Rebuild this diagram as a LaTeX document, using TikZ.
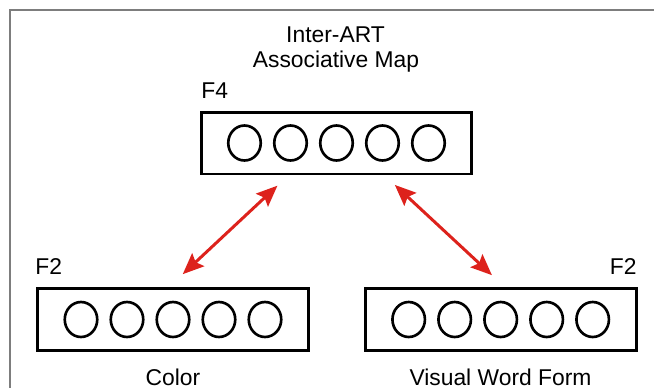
\documentclass[tikz,border=0pt]{standalone}
\usepackage{fontspec}
\setmainfont{Liberation Sans}
\usepackage{tikz}
\usetikzlibrary{shapes,arrows.meta}
\definecolor{linkred}{RGB}{221,34,28}
\definecolor{framegray}{RGB}{125,125,125}
\tikzstyle{layer} = [draw, line width=1.7pt, minimum width=5.42cm, minimum height=1.24cm, inner sep=0pt]
\tikzstyle{cell} = [draw, ellipse, line width=1.5pt, minimum width=0.65cm, minimum height=0.70cm, inner sep=0pt]
\tikzstyle{txt} = [font=\fontsize{13}{15.5}\selectfont, inner sep=0pt]
\tikzstyle{link} = [linkred, line width=1.7pt, {Stealth[length=12pt,width=10pt,inset=2pt]}-{Stealth[length=12pt,width=10pt,inset=2pt]}]

\begin{document}
\begin{tikzpicture}[x=0.02cm,y=-0.02cm]
\useasboundingbox (0,0) rectangle (654,387);
\draw [framegray, line width=1.1pt] (10,400) -- (10,10) -- (670,10);
\node[txt, anchor=base] (title1) at (335.5,42) {Inter-ART};
\node[txt, anchor=base] (title2) at (336,67.5) {Associative Map};
\node[layer] (f4box) at (336.5,143) {};
\node[layer] (colorbox) at (173,319.5) {};
\node[layer] (wordbox) at (500.7,319.5) {};
\foreach \i in {1,...,5} {
  \node[cell] (f4c\i) at ({336.5+46*(\i-3)},143) {};
  \node[cell] (colc\i) at ({173+46*(\i-3)},319.5) {};
  \node[cell] (wrdc\i) at ({500.7+46*(\i-3)},319.5) {};
}
\node[txt, anchor=base west] (f4lbl) at (201,98) {F4};
\node[txt, anchor=base west] (f2left) at (35,274) {F2};
\node[txt, anchor=base east] (f2right) at (637,274) {F2};
\node[txt, text depth=0pt, anchor=base] (colorlbl) at (173,385) {Color};
\node[txt, text depth=0pt, anchor=base] (wordlbl) at (500.5,385) {Visual Word Form};
\draw [link, shorten <=8.5pt, shorten >=10.7pt] (f4box.214) -- (colorbox.97);
\draw [link, shorten <=7.9pt, shorten >=9.9pt] (f4box.326) -- (wordbox.83);
\end{tikzpicture}
\end{document}
